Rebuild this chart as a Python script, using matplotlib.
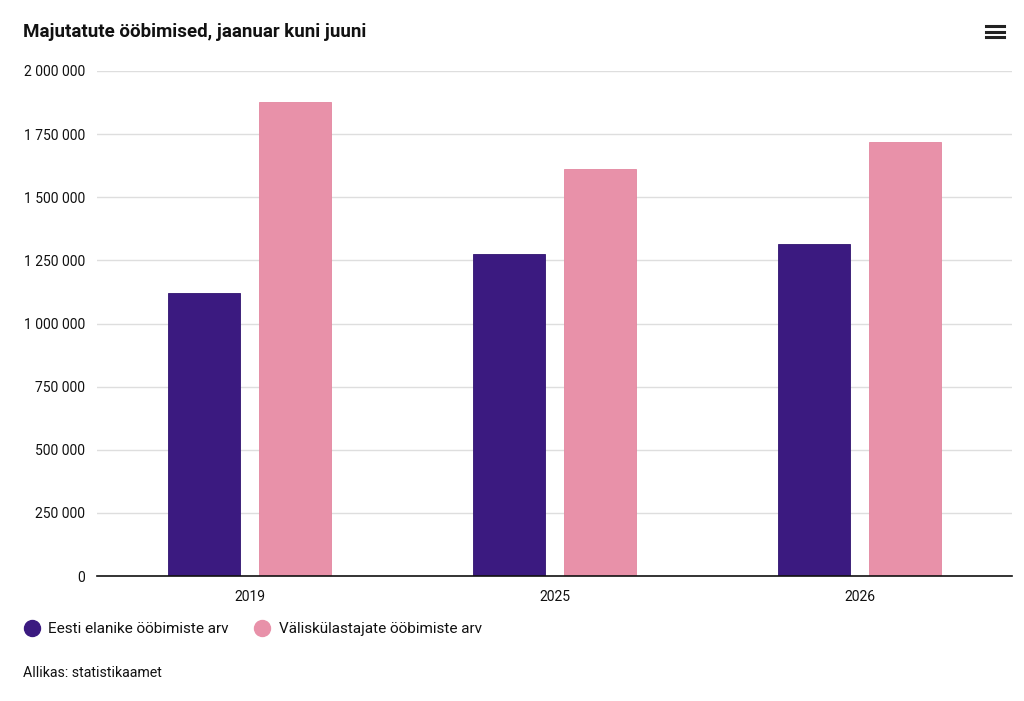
import matplotlib
matplotlib.use("Agg")
import matplotlib.pyplot as plt
from matplotlib.lines import Line2D
from matplotlib.ticker import FuncFormatter
import numpy as np

plt.rcParams['font.family'] = ['Roboto', 'DejaVu Sans']

title = "Majutatute ööbimised, jaanuar kuni juuni"
source = "Allikas: statistikaamet"
categories = ["2019", "2025", "2026"]
series_names = ["Eesti elanike ööbimiste arv", "Väliskülastajate ööbimiste arv"]
residents = [1120000, 1274000, 1316000]
foreigners = [1878000, 1610000, 1717000]
colors = ["#3b1a80", "#e891a9"]
edge_colors = ["#301370", "#e387a0"]
yticks = [0, 250000, 500000, 750000, 1000000, 1250000, 1500000, 1750000, 2000000]

W, H = 1024, 701
fig = plt.figure(figsize=(W / 100, H / 100), dpi=100)
ax = fig.add_axes([97 / W, (H - 576) / H, (1012 - 97) / W, (576 - 71) / H])

x = np.arange(len(categories))
width = 0.236
off = 0.149
ax.bar(x - off, residents, width, color=colors[0], edgecolor=edge_colors[0], linewidth=0.6, zorder=3)
ax.bar(x + off, foreigners, width, color=colors[1], edgecolor=edge_colors[1], linewidth=0.6, zorder=3)

ax.set_xlim(-0.5, len(categories) - 0.5)
ax.set_ylim(0, 2000000)
ax.set_yticks(yticks)
ax.yaxis.set_major_formatter(FuncFormatter(lambda v, p: f"{int(v):,}".replace(",", " ")))
ax.set_xticks(x)
ax.set_xticklabels(categories)
ax.tick_params(axis='y', length=0, pad=8.6, labelsize=10, labelcolor="#111111")
ax.tick_params(axis='x', length=0, pad=10, labelsize=10, labelcolor="#111111")
ax.grid(axis='y', color="#dedede", linewidth=1, zorder=0)
for s in ["top", "right", "left"]:
    ax.spines[s].set_visible(False)
ax.spines["bottom"].set_color("#111111")
ax.spines["bottom"].set_linewidth(1.2)
ax.spines["bottom"].set_zorder(4)

fig.text(23 / W, 1 - 32 / H, title, fontsize=13.5, fontweight='bold', va='center', ha='left', color="#111111")
fig.text(23 / W, 1 - 673 / H, source, fontsize=10.2, va='center', ha='left', color="#111111")

# menu icon
for yy in [26, 31.5, 37]:
    fig.add_artist(Line2D([986 / W, 1004 / W], [1 - yy / H, 1 - yy / H], color="#222222", linewidth=2.2))

handles = [Line2D([], [], marker='o', linestyle='none', markersize=11.5, markerfacecolor=c, markeredgecolor=c)
           for c in colors]
leg = fig.legend(handles, series_names, loc='center left', bbox_to_anchor=(24 / W, 1 - 629 / H),
                 ncol=2, frameon=False, fontsize=11, handletextpad=0.56, columnspacing=1.73,
                 borderpad=0, borderaxespad=0, handlelength=1.0)
for t in leg.get_texts():
    t.set_color("#111111")

fig.savefig("out.png", dpi=100, facecolor="white")
